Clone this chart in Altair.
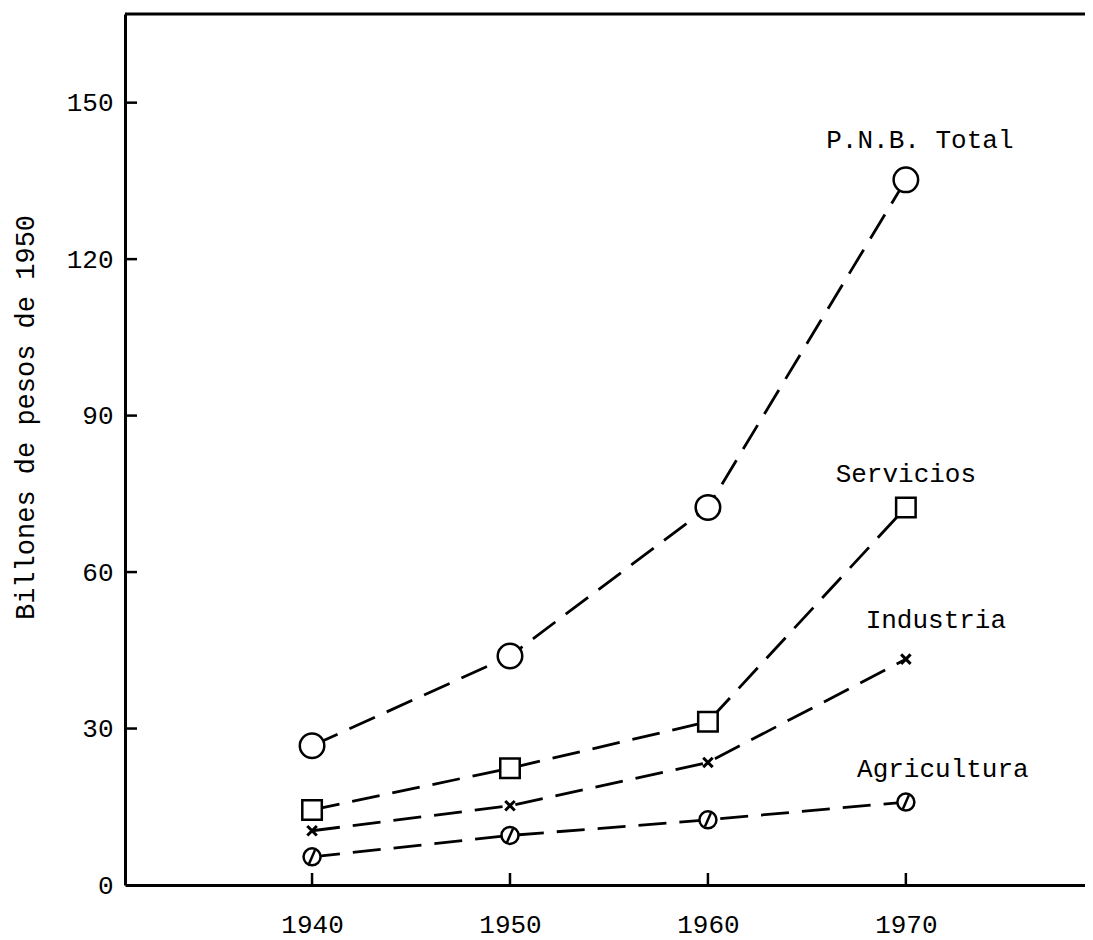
import altair as alt
import pandas as pd

# ---- data ----
years = [1940, 1950, 1960, 1970]
series_names = ["P.N.B. Total", "Servicios", "Industria", "Agricultura"]
pnb = [26.7, 43.9, 72.4, 135.2]
servicios = [14.4, 22.4, 31.3, 72.4]
industria = [10.4, 15.2, 23.5, 43.3]
agricultura = [5.4, 9.5, 12.5, 15.9]
x_ticks = [1940, 1950, 1960, 1970]
y_ticks = [0, 30, 60, 90, 120, 150]
y_title = "Billones de pesos de 1950"

values_by_series = [pnb, servicios, industria, agricultura]
rows = []
for name, vals in zip(series_names, values_by_series):
    for yr, v in zip(years, vals):
        rows.append({"series": name, "year": yr, "value": v})
df = pd.DataFrame(rows)
yt_df = pd.DataFrame({"value": [v for v in y_ticks if v > 0]})
xt_df = pd.DataFrame({"year": x_ticks})

FONT = "Liberation Mono"
W, H = 960, 871

x_enc = alt.X(
    "year:Q",
    scale=alt.Scale(domain=[1930.55, 1979.05], nice=False, zero=False),
    axis=alt.Axis(
        values=x_ticks, format="d", title=None, grid=False, ticks=False,
        domainColor="black", domainWidth=3, labelFont=FONT, labelFontSize=26,
        labelColor="black", labelPadding=47, labelBaseline="alphabetic",
        labelFlush=False,
    ),
)
y_enc = alt.Y(
    "value:Q",
    scale=alt.Scale(domain=[0, 167], nice=False),
    axis=alt.Axis(
        values=y_ticks, grid=False, ticks=False, domainColor="black",
        domainWidth=3, labelFont=FONT, labelFontSize=26, labelColor="black",
        labelPadding=12, title=y_title, titleFont=FONT, titleFontSize=27,
        titleFontWeight="normal", titleColor="black", titleAngle=270,
        titleX=-92, titleY=403, titleAlign="center", titleBaseline="alphabetic",
    ),
)

base = alt.Chart(df)

lines = base.mark_line(
    color="black", strokeWidth=2.8, strokeDash=[28, 13]
).encode(x=x_enc, y=y_enc, detail="series:N")

pt_style = dict(filled=True, fill="white", stroke="black", opacity=1, strokeOpacity=1, fillOpacity=1)

circles = base.transform_filter(alt.datum.series == "P.N.B. Total").mark_point(
    shape="circle", size=600, strokeWidth=2.5, **pt_style
).encode(x=x_enc, y=y_enc)

squares = base.transform_filter(alt.datum.series == "Servicios").mark_point(
    shape="square", size=380, strokeWidth=2.5, **pt_style
).encode(x=x_enc, y=y_enc)

crosses = base.transform_filter(alt.datum.series == "Industria").mark_point(
    shape="M-1,-1L1,1M1,-1L-1,1", size=90, strokeWidth=3, filled=False,
    stroke="black", opacity=1,
).encode(x=x_enc, y=y_enc)

agri_c = base.transform_filter(alt.datum.series == "Agricultura").mark_point(
    shape="circle", size=290, strokeWidth=2.5, **pt_style
).encode(x=x_enc, y=y_enc)

agri_s = base.transform_filter(alt.datum.series == "Agricultura").mark_point(
    shape="M0.35,-0.8L-0.35,0.8", size=290, strokeWidth=2.5, filled=False,
    stroke="black", opacity=1,
).encode(x=x_enc, y=y_enc)

# label offsets from each series' 1970 point
label_offsets = {
    "P.N.B. Total": (14, -40),
    "Servicios": (0, -33),
    "Industria": (30, -39),
    "Agricultura": (37, -33),
}
labels = []
for name in series_names:
    dx, dy = label_offsets[name]
    labels.append(
        base.transform_filter(
            (alt.datum.series == name) & (alt.datum.year == years[-1])
        ).mark_text(
            font=FONT, fontSize=26, color="black", align="center",
            baseline="middle", dx=dx, dy=dy,
        ).encode(x=x_enc, y=y_enc, text="series:N")
    )

# inward tick marks
y_tick_rules = alt.Chart(yt_df).mark_rule(color="black", strokeWidth=2.5).encode(
    y=y_enc, x=alt.value(0), x2=alt.value(12)
)
x_tick_rules = alt.Chart(xt_df).mark_rule(color="black", strokeWidth=2.5).encode(
    x=x_enc, y=alt.value(H), y2=alt.value(H - 12)
)
top_border = alt.Chart(xt_df.head(1)).mark_rule(color="black", strokeWidth=3).encode(
    x=alt.value(0), x2=alt.value(W), y=alt.value(0)
)

chart = alt.layer(
    lines, y_tick_rules, x_tick_rules, top_border,
    circles, squares, crosses, agri_c, agri_s, *labels
).properties(
    width=W, height=H,
    autosize=alt.AutoSizeParams(type="none"),
    padding={"left": 117, "top": 6, "right": 0, "bottom": 54},
    background="white",
).configure_view(stroke=None)

chart.save("out.html", embed_options={"renderer": "svg", "actions": False})
